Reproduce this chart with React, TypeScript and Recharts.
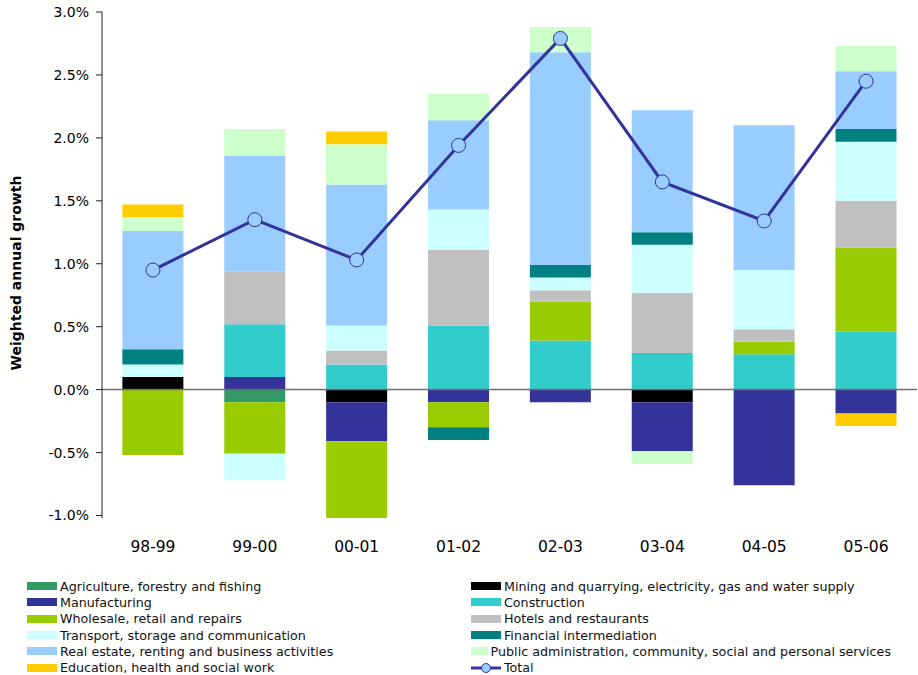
import { ComposedChart, Bar, Line, XAxis, YAxis, ReferenceLine } from 'recharts';

const periods = ['98-99', '99-00', '00-01', '01-02', '02-03', '03-04', '04-05', '05-06'];

// weighted annual growth contributions, in percentage points
const agriculture = [0, -0.1, 0, 0, 0, 0, 0, 0];
const mining = [0.1, 0, -0.1, 0, 0, -0.1, 0, 0];
const manufacturing = [0, 0.1, -0.31, -0.1, -0.1, -0.39, -0.76, -0.19];
const construction = [0, 0.42, 0.2, 0.51, 0.39, 0.29, 0.28, 0.46];
const wholesale = [-0.52, -0.41, -0.61, -0.2, 0.31, 0, 0.1, 0.67];
const hotels = [0, 0.42, 0.11, 0.6, 0.09, 0.48, 0.1, 0.37];
const transport = [0.1, -0.21, 0.2, 0.32, 0.1, 0.38, 0.47, 0.47];
const financial = [0.12, 0, 0, -0.1, 0.1, 0.1, 0, 0.1];
const realEstate = [0.94, 0.92, 1.12, 0.71, 1.69, 0.97, 1.15, 0.46];
const publicAdmin = [0.11, 0.21, 0.32, 0.21, 0.2, -0.1, 0, 0.2];
const education = [0.1, 0, 0.1, 0, 0, 0, 0, -0.1];
const total = [0.95, 1.35, 1.03, 1.94, 2.79, 1.65, 1.34, 2.45];

const yTicks = [-1, -0.5, 0, 0.5, 1, 1.5, 2, 2.5, 3];

interface Sector {
  key: string;
  name: string;
  color: string;
  values: number[];
}

const sectors: Sector[] = [
  { key: 'agriculture', name: 'Agriculture, forestry and fishing', color: '#339966', values: agriculture },
  { key: 'mining', name: 'Mining and quarrying, electricity, gas and water supply', color: '#000000', values: mining },
  { key: 'manufacturing', name: 'Manufacturing', color: '#333399', values: manufacturing },
  { key: 'construction', name: 'Construction', color: '#33cccc', values: construction },
  { key: 'wholesale', name: 'Wholesale, retail and repairs', color: '#99cc00', values: wholesale },
  { key: 'hotels', name: 'Hotels and restaurants', color: '#c0c0c0', values: hotels },
  { key: 'transport', name: 'Transport, storage and communication', color: '#ccffff', values: transport },
  { key: 'financial', name: 'Financial intermediation', color: '#008080', values: financial },
  { key: 'realEstate', name: 'Real estate, renting and business activities', color: '#99ccff', values: realEstate },
  { key: 'publicAdmin', name: 'Public administration, community, social and personal services', color: '#ccffcc', values: publicAdmin },
  { key: 'education', name: 'Education, health and social work', color: '#ffcc00', values: education },
];

const data = periods.map((period, i) => {
  const row: Record<string, string | number> = { period, total: total[i] };
  sectors.forEach((s) => {
    row[s.key] = s.values[i];
  });
  return row;
});

const FONT = '"DejaVu Sans", sans-serif';

const YTitle = (props: any) => {
  const vb = props.viewBox || { x: 0, y: 0, height: 0 };
  const cx = vb.x + 16;
  const cy = vb.y + vb.height / 2 + 8;
  return (
    <text
      x={cx}
      y={cy}
      transform={`rotate(-90 ${cx} ${cy})`}
      textAnchor="middle"
      dominantBaseline="central"
      fontFamily={FONT}
      fontSize={14}
      fontWeight="bold"
      fill="#000"
    >
      Weighted annual growth
    </text>
  );
};

export default function App() {
  const legendItems = [...sectors.map((s) => ({ name: s.name, color: s.color, line: false })), { name: 'Total', color: '#333399', line: true }];

  return (
    <div style={{ position: 'absolute', left: 0, top: 0, width: 918, height: 675, background: '#fff', fontFamily: FONT }}>
      <ComposedChart
        width={918}
        height={560}
        data={data}
        stackOffset="sign"
        barCategoryGap="20%"
        margin={{ top: 12, right: 1, left: 0, bottom: 12 }}
      >
        <XAxis
          dataKey="period"
          axisLine={false}
          tickLine={false}
          tickSize={0}
          tickMargin={23}
          height={30}
          tick={{ fontSize: 15.5, fill: '#000', fontFamily: FONT }}
        />
        <YAxis
          domain={[-1, 3]}
          ticks={yTicks}
          interval={0}
          width={102}
          tickFormatter={(v: number) => `${v.toFixed(1)}%`}
          tick={{ fontSize: 14, fill: '#000', fontFamily: FONT }}
          tickSize={6}
          tickMargin={7}
          stroke="#222"
          label={{ content: YTitle }}
        />
        {sectors.map((s) => (
          <Bar key={s.key} dataKey={s.key} name={s.name} stackId="a" fill={s.color} isAnimationActive={false} />
        ))}
        <ReferenceLine y={0} stroke="#6e6e6e" strokeWidth={1.5} />
        <Line
          type="linear"
          dataKey="total"
          name="Total"
          stroke="#333399"
          strokeWidth={3}
          dot={{ r: 7, fill: '#99ccff', stroke: '#333399', strokeWidth: 1 }}
          isAnimationActive={false}
        />
      </ComposedChart>

      <div
        style={{
          position: 'absolute',
          left: 27,
          top: 578,
          display: 'grid',
          gridTemplateColumns: '444px 420px',
          gridAutoRows: '16.3px',
          fontSize: 12.7,
          color: '#111',
        }}
      >
        {legendItems.map((item) => (
          <div key={item.name} style={{ display: 'flex', alignItems: 'center', whiteSpace: 'nowrap' }}>
            {item.line ? (
              <svg width={30} height={10} style={{ marginRight: 3 }}>
                <line x1={0} y1={5} x2={30} y2={5} stroke={item.color} strokeWidth={3} />
                <circle cx={15} cy={5} r={4.5} fill="#99ccff" stroke={item.color} strokeWidth={1} />
              </svg>
            ) : (
              <span style={{ width: 30, height: 8, background: item.color, marginRight: 3, display: 'inline-block' }} />
            )}
            <span>{item.name}</span>
          </div>
        ))}
      </div>
    </div>
  );
}
